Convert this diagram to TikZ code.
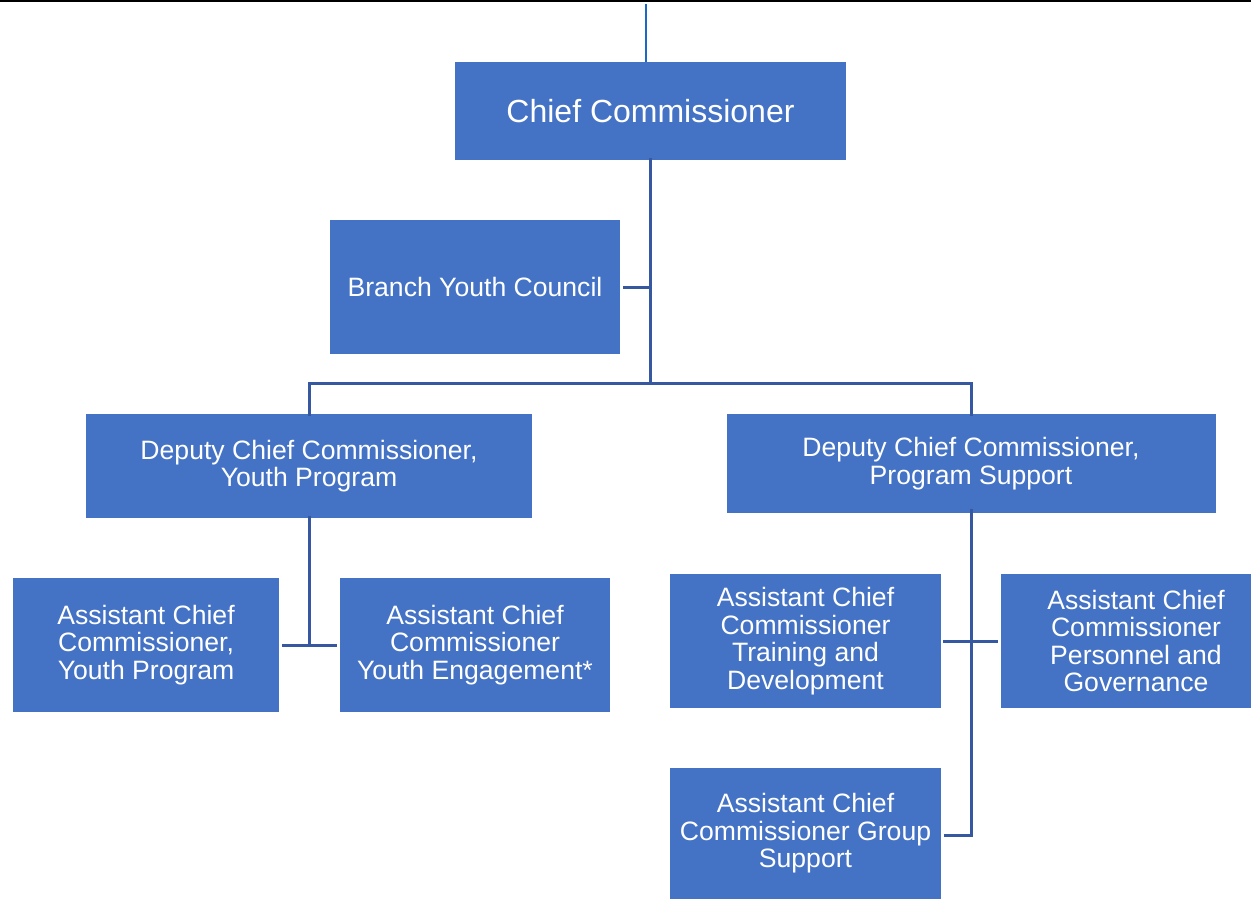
\documentclass[tikz,border=0pt]{standalone}
\usepackage{fontspec}
\setmainfont{Liberation Sans}
\definecolor{boxblue}{HTML}{4472C4}
\definecolor{linkblue}{RGB}{54,88,160}
\definecolor{topblue}{RGB}{26,104,200}
\begin{document}
\begin{tikzpicture}[x=1pt,y=-1pt,
  box/.style={fill=boxblue,draw=none,text=white,align=center,inner sep=0pt,
    font=\fontsize{26.6}{27.6}\selectfont},
  link/.style={draw=linkblue,line width=3pt},
]
\useasboundingbox (0,0) rectangle (1251,899);
\fill[white] (0,0) rectangle (1251,899);
% top border
\draw[black,line width=3pt] (0,1) -- (1251,1);
% nodes
\node[box,minimum width=391,minimum height=98,font=\fontsize{32}{34}\selectfont] (chief) at (650.5,111) {Chief Commissioner};
\node[box,minimum width=290,minimum height=134] (byc) at (475,287) {Branch Youth Council};
\node[box,minimum width=446,minimum height=104] (dccL) at (309,466) {Deputy Chief Commissioner,\\Youth Program};
\node[box,minimum width=489,minimum height=99] (dccR) at (971,463.5) {Deputy Chief Commissioner,\\Program Support};
\node[box,minimum width=266,minimum height=134] (acc1) at (146,645) {Assistant Chief\\Commissioner,\\Youth Program};
\node[box,minimum width=270,minimum height=134] (acc2) at (475,645) {Assistant Chief\\Commissioner\\Youth Engagement*};
\node[box,minimum width=271,minimum height=134] (accT) at (805.5,641) {Assistant Chief\\Commissioner\\Training and\\Development};
\node[box,minimum width=250,minimum height=134,
  label={[box,fill=none,xshift=10pt]center:{Assistant Chief\\Commissioner\\Personnel and\\Governance}}] (accP) at (1126,641) {};
\node[box,minimum width=271,minimum height=131] (accG) at (805.5,833.5) {Assistant Chief\\Commissioner Group\\Support};
% connectors
\coordinate (top) at (646,4);
\draw[draw=topblue,line width=2.6pt] (top) -- (top |- chief.north);
\coordinate (bus) at (650,383);
\draw[link] ([yshift=2pt]chief.south -| bus) -- (bus);
\draw[link] ([xshift=3pt]byc.east) -- (byc.east -| bus);
\draw[link] ([yshift=-2pt]dccL.north) |- (bus) -| ([yshift=-2pt]dccR.north);
\coordinate (jl) at (309,645);
\draw[link] ([yshift=2pt]dccL.south) -- (jl);
\draw[link] ([xshift=3pt]acc1.east) -- ([xshift=-3pt]acc2.west);
\coordinate (jr) at (971,835);
\draw[link] ([yshift=4pt]dccR.south) -- (jr) -- ([xshift=3pt]jr -| accG.east);
\draw[link] ([xshift=2pt]accT.east) -- ([xshift=-3pt]accP.west);
\end{tikzpicture}
\end{document}
